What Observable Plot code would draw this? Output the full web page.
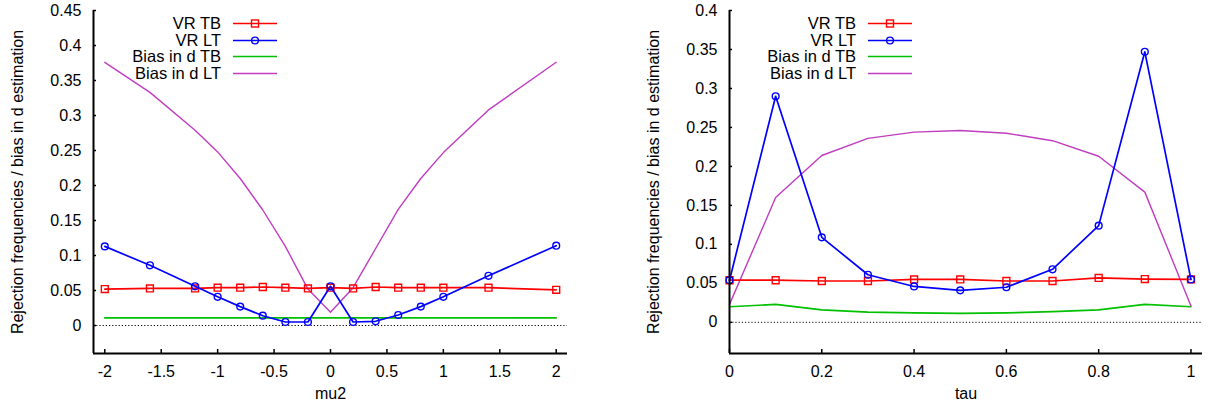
<!DOCTYPE html>
<html><head><meta charset="utf-8">
<script src="https://cdn.jsdelivr.net/npm/d3@7"></script>
<script src="https://cdn.jsdelivr.net/npm/@observablehq/plot@0.6"></script>
<style>
body{margin:0;background:#fff;font-family:"Liberation Sans",Arial,sans-serif;}
#wrap{display:flex;width:1213px;height:407px;}
.panel{position:relative;height:407px;}
.row{position:absolute;display:flex;align-items:center;height:17px;font-size:16.5px;color:#000;white-space:nowrap;}
.row span{margin-right:12px;}
</style></head><body><div id="wrap"></div>
<script>
// ---- data ----
const seriesNames = ["VR TB", "VR LT", "Bias in d TB", "Bias in d LT"];
const seriesColors = ["#ff0000", "#0000ff", "#00c000", "#c03cc0"];

const mu2 = [-2, -1.6, -1.2, -1, -0.8, -0.6, -0.4, -0.2, 0, 0.2, 0.4, 0.6, 0.8, 1, 1.4, 2];
const vrTB_mu = [0.052, 0.053, 0.053, 0.054, 0.054, 0.055, 0.054, 0.053, 0.054, 0.053, 0.055, 0.054, 0.054, 0.054, 0.054, 0.051];
const vrLT_mu = [0.113, 0.086, 0.056, 0.041, 0.027, 0.014, 0.005, 0.005, 0.056, 0.005, 0.006, 0.015, 0.027, 0.041, 0.071, 0.114];
const biasTB_mu = [0.011, 0.011, 0.011, 0.011, 0.011, 0.011, 0.011, 0.011, 0.011, 0.011, 0.011, 0.011, 0.011, 0.011, 0.011, 0.011];
const biasLT_mu = [0.376, 0.333, 0.279, 0.248, 0.210, 0.165, 0.113, 0.052, 0.019, 0.054, 0.110, 0.166, 0.210, 0.247, 0.308, 0.376];

const tau = [0, 0.1, 0.2, 0.3, 0.4, 0.5, 0.6, 0.7, 0.8, 0.9, 1];
const vrTB_tau = [0.054, 0.054, 0.053, 0.053, 0.055, 0.055, 0.053, 0.053, 0.057, 0.0555, 0.055];
const vrLT_tau = [0.054, 0.290, 0.109, 0.061, 0.046, 0.041, 0.045, 0.068, 0.124, 0.347, 0.055];
const biasTB_tau = [0.020, 0.023, 0.016, 0.013, 0.012, 0.0115, 0.012, 0.0137, 0.016, 0.023, 0.020];
const biasLT_tau = [0.023, 0.160, 0.214, 0.236, 0.244, 0.246, 0.2425, 0.233, 0.213, 0.167, 0.021];

const xTicksMu = [-2, -1.5, -1, -0.5, 0, 0.5, 1, 1.5, 2];
const yTicksMu = [0, 0.05, 0.1, 0.15, 0.2, 0.25, 0.3, 0.35, 0.4, 0.45];
const xTicksTau = [0, 0.2, 0.4, 0.6, 0.8, 1];
const yTicksTau = [0, 0.05, 0.1, 0.15, 0.2, 0.25, 0.3, 0.35, 0.4];

const yLabel = "Rejection frequencies / bias in d estimation";

function fmt(d) { return String(+d.toFixed(2)); }

function panel({xs, vals, xDomain, yDomain, xTicks, yTicks, xLabel, width, marginLeft, marginRight, legendRight}) {
  const rows = vals.map(v => xs.map((x, i) => ({x, y: v[i]})));
  const marks = [
    Plot.ruleY([0], {stroke: "#000", strokeWidth: 1, strokeDasharray: "1.2,2"}),
    Plot.line(rows[2], {x: "x", y: "y", stroke: seriesColors[2], strokeWidth: 1.7}),
    Plot.line(rows[3], {x: "x", y: "y", stroke: seriesColors[3], strokeWidth: 1.4}),
    Plot.line(rows[0], {x: "x", y: "y", stroke: seriesColors[0], strokeWidth: 1.7}),
    Plot.dot(rows[0], {x: "x", y: "y", symbol: "square", r: 3.9, stroke: seriesColors[0], fill: "none", strokeWidth: 1.4}),
    Plot.line(rows[1], {x: "x", y: "y", stroke: seriesColors[1], strokeWidth: 1.7}),
    Plot.dot(rows[1], {x: "x", y: "y", symbol: "circle", r: 3.4, stroke: seriesColors[1], fill: "none", strokeWidth: 1.4}),
    Plot.axisX({ticks: xTicks, tickFormat: fmt, tickSize: -4, tickPadding: 16, strokeWidth: 1.5, label: null, fontSize: 16}),
    Plot.axisY({ticks: yTicks, tickFormat: fmt, tickSize: -3, tickPadding: 15, strokeWidth: 1.5, label: null, fontSize: 16}),
    Plot.ruleY([yDomain[0]], {stroke: "#000", strokeWidth: 2}),
    Plot.ruleX([xDomain[0]], {stroke: "#000", strokeWidth: 2}),
    Plot.text([xLabel], {text: d => d, frameAnchor: "bottom", dy: 45, fontSize: 16}),
    Plot.text([yLabel], {text: d => d, frameAnchor: "left", textAnchor: "middle", rotate: -90, dx: -76, fontSize: 16})
  ];
  const svg = Plot.plot({
    width, height: 407,
    marginLeft, marginRight, marginTop: 10, marginBottom: 54,
    x: {domain: xDomain},
    y: {domain: yDomain},
    style: {fontFamily: "Liberation Sans, Arial, sans-serif", fontSize: "16px", color: "#000", background: "#fff"},
    marks
  });
  const div = document.createElement("div");
  div.className = "panel";
  div.style.width = width + "px";
  div.appendChild(svg);
  const centers = [23.3, 40, 56.7, 73.3];
  seriesNames.forEach((name, i) => {
    const row = document.createElement("div");
    row.className = "row";
    row.style.right = legendRight + "px";
    row.style.top = (centers[i] - 8.5) + "px";
    const sp = document.createElement("span");
    sp.textContent = name;
    row.appendChild(sp);
    const ns = "http://www.w3.org/2000/svg";
    const s = document.createElementNS(ns, "svg");
    s.setAttribute("width", 44); s.setAttribute("height", 17);
    const ln = document.createElementNS(ns, "line");
    ln.setAttribute("x1", 0); ln.setAttribute("x2", 44); ln.setAttribute("y1", 8.5); ln.setAttribute("y2", 8.5);
    ln.setAttribute("stroke", seriesColors[i]); ln.setAttribute("stroke-width", i === 3 ? 1.4 : 1.7);
    s.appendChild(ln);
    if (i === 0) {
      const r = document.createElementNS(ns, "rect");
      r.setAttribute("x", 18.5); r.setAttribute("y", 5); r.setAttribute("width", 7); r.setAttribute("height", 7);
      r.setAttribute("fill", "none"); r.setAttribute("stroke", seriesColors[0]); r.setAttribute("stroke-width", 1.4);
      s.appendChild(r);
    } else if (i === 1) {
      const c = document.createElementNS(ns, "circle");
      c.setAttribute("cx", 22); c.setAttribute("cy", 8.5); c.setAttribute("r", 3.4);
      c.setAttribute("fill", "none"); c.setAttribute("stroke", seriesColors[1]); c.setAttribute("stroke-width", 1.4);
      s.appendChild(c);
    }
    row.appendChild(s);
    div.appendChild(row);
  });
  return div;
}

const wrap = document.getElementById("wrap");
wrap.appendChild(panel({
  xs: mu2, vals: [vrTB_mu, vrLT_mu, biasTB_mu, biasLT_mu],
  xDomain: [-2.1, 2.1], yDomain: [-0.04, 0.45],
  xTicks: xTicksMu, yTicks: yTicksMu, xLabel: "mu2",
  width: 600, marginLeft: 93, marginRight: 33, legendRight: 323
}));
wrap.appendChild(panel({
  xs: tau, vals: [vrTB_tau, vrLT_tau, biasTB_tau, biasLT_tau],
  xDomain: [0, 1.025], yDomain: [-0.04, 0.4],
  xTicks: xTicksTau, yTicks: yTicksTau, xLabel: "tau",
  width: 613, marginLeft: 129, marginRight: 11, legendRight: 301
}));
</script>
</body></html>
